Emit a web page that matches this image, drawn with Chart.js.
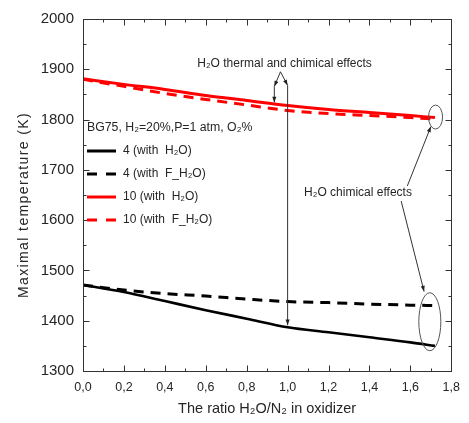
<!DOCTYPE html>
<html><head><meta charset="utf-8">
<script src="https://cdn.jsdelivr.net/npm/chart.js@4.4.1/dist/chart.umd.min.js"></script>
<style>html,body{margin:0;padding:0;background:#fff;}#wrap{width:469px;height:423px;}</style>
</head><body><div id="wrap"><canvas id="c" width="469" height="423"></canvas></div>
<script>
// ---- data ----
const ratio = [0, 0.2, 0.4, 0.6, 0.8, 1.0, 1.2, 1.4, 1.6, 1.72];
const o2_4_withH2O   = [1471, 1457, 1439, 1421, 1404, 1387, 1377, 1367, 1357, 1350];
const o2_4_withFH2O  = [1471, 1461, 1454, 1449, 1443, 1438, 1436, 1433, 1431, 1430];
const o2_10_withH2O  = [1881, 1870, 1860, 1848, 1838, 1828, 1820, 1814, 1808, 1804];
const o2_10_withFH2O = [1880, 1866, 1852, 1840, 1829, 1818, 1812, 1808, 1804, 1801];
const xTicks = [0, 0.2, 0.4, 0.6, 0.8, 1.0, 1.2, 1.4, 1.6, 1.8];
const yTicks = [1300, 1400, 1500, 1600, 1700, 1800, 1900, 2000];
const seriesLabels = ['4 (with  H\u2082O)', '4 (with  F_H\u2082O)', '10 (with  H\u2082O)', '10 (with  F_H\u2082O)'];
const legendTitle = 'BG75, H\u2082=20%,P=1 atm, O\u2082%';
const xTitle = 'The ratio H\u2082O/N\u2082 in oxidizer';
const yTitle = 'Maximal temperature (K)';
const note1 = 'H\u2082O thermal and chimical effects';
const note2 = 'H\u2082O chimical effects';

const FONT = "'Liberation Sans', Arial, sans-serif";
const TXT = '#262626';

const pts = arr => ratio.map((r, i) => ({x: r, y: arr[i]}));
const mk = (label, arr, color, dash, w) => ({
  label, data: pts(arr), borderColor: color, backgroundColor: color,
  borderWidth: w, borderDash: dash, pointRadius: 0, tension: 0.35,
  cubicInterpolationMode: 'monotone', fill: false
});

const overlay = {
  id: 'overlay',
  afterDraw(chart) {
    const {ctx, chartArea: a, scales: {x, y}} = chart;
    const P = (xv, yv) => [x.getPixelForValue(xv), y.getPixelForValue(yv)];
    ctx.save();
    // frame
    ctx.strokeStyle = '#333'; ctx.lineWidth = 1;
    const L = Math.round(a.left) + 0.5, R = Math.round(a.right) + 0.5;
    const T = Math.round(a.top) + 0.5, B = Math.round(a.bottom) + 0.5;
    ctx.strokeRect(L, T, R - L, B - T);
    // ticks (inward, major + minor)
    ctx.beginPath();
    for (let i = 0; i <= 18; i++) {
      const px = Math.round(x.getPixelForValue(i / 10)) + 0.5;
      const len = i % 2 === 0 ? 6 : 3;
      ctx.moveTo(px, B); ctx.lineTo(px, B - len);
      ctx.moveTo(px, T); ctx.lineTo(px, T + len);
    }
    for (let v = 1300; v <= 2000; v += 50) {
      const py = Math.round(y.getPixelForValue(v)) + 0.5;
      const len = v % 100 === 0 ? 6 : 3;
      ctx.moveTo(L, py); ctx.lineTo(L + len, py);
      ctx.moveTo(R, py); ctx.lineTo(R - len, py);
    }
    ctx.stroke();

    // y title with letter spacing
    ctx.save();
    ctx.translate(24, 205);
    ctx.rotate(-Math.PI / 2);
    ctx.font = '14px ' + FONT;
    ctx.letterSpacing = '1.4px';
    ctx.fillStyle = TXT; ctx.textAlign = 'center'; ctx.textBaseline = 'middle';
    ctx.fillText(yTitle, 0, 0);
    ctx.restore();

    // legend
    ctx.fillStyle = TXT; ctx.textBaseline = 'middle'; ctx.textAlign = 'left';
    ctx.font = '12.3px ' + FONT;
    ctx.fillText(legendTitle, 87, 128);
    ctx.font = '12px ' + FONT;
    const rows = [151, 174, 197, 220];
    chart.data.datasets.forEach((ds, i) => {
      const ry = rows[i];
      ctx.save();
      ctx.strokeStyle = ds.borderColor; ctx.lineWidth = 3;
      ctx.setLineDash(ds.borderDash && ds.borderDash.length ? [10, 9] : []);
      ctx.beginPath(); ctx.moveTo(87, ry); ctx.lineTo(116, ry); ctx.stroke();
      ctx.restore();
      ctx.fillStyle = TXT;
      ctx.fillText(ds.label, 123, ry);
    });

    // annotations
    ctx.strokeStyle = '#333'; ctx.fillStyle = '#222'; ctx.lineWidth = 1;
    const arrow = (p1, p2, head = 6) => {
      ctx.beginPath(); ctx.moveTo(p1[0], p1[1]); ctx.lineTo(p2[0], p2[1]); ctx.stroke();
      const ang = Math.atan2(p2[1] - p1[1], p2[0] - p1[0]);
      ctx.beginPath();
      ctx.moveTo(p2[0], p2[1]);
      ctx.lineTo(p2[0] - head * Math.cos(ang - 0.35), p2[1] - head * Math.sin(ang - 0.35));
      ctx.lineTo(p2[0] - head * Math.cos(ang + 0.35), p2[1] - head * Math.sin(ang + 0.35));
      ctx.closePath(); ctx.fill();
    };
    const apex = P(0.965, 1895);
    arrow(apex, P(0.935, 1866));
    arrow(P(0.935, 1866), P(0.935, 1834));
    arrow(apex, P(1.0, 1868));
    arrow(P(1.0, 1868), P(1.0, 1391));
    arrow(P(1.585, 1668), P(1.70, 1786));
    arrow(P(1.555, 1638), P(1.667, 1458));
    ctx.strokeStyle = '#555';
    const ell = (c, rx, ry) => { ctx.beginPath(); ctx.ellipse(c[0], c[1], rx, ry, 0, 0, Math.PI * 2); ctx.stroke(); };
    ell(P(1.723, 1805), 7, 12);
    ell(P(1.695, 1398), 11, 29);

    ctx.fillStyle = TXT; ctx.textAlign = 'center'; ctx.textBaseline = 'middle';
    ctx.font = '12px ' + FONT;
    const t1 = P(0.985, 1912); ctx.fillText(note1, t1[0], t1[1]);
    const t2 = P(1.344, 1654); ctx.fillText(note2, t2[0], t2[1]);
    ctx.restore();
  }
};

new Chart(document.getElementById('c'), {
  type: 'line',
  data: {
    datasets: [
      mk(seriesLabels[0], o2_4_withH2O, '#000000', [], 2.6),
      mk(seriesLabels[1], o2_4_withFH2O, '#000000', [10, 7], 3),
      mk(seriesLabels[2], o2_10_withH2O, '#ff0000', [], 3),
      mk(seriesLabels[3], o2_10_withFH2O, '#ff0000', [10, 7], 3)
    ]
  },
  options: {
    responsive: false, animation: false, devicePixelRatio: 1,
    layout: {padding: {top: 19, right: 11, left: 0, bottom: 0}},
    plugins: {legend: {display: false}, tooltip: {enabled: false}},
    scales: {
      x: {
        type: 'linear', min: 0, max: 1.8,
        afterBuildTicks: s => { s.ticks = xTicks.map(v => ({value: v})); },
        afterFit: s => { s.height = 52; },
        grid: {display: false, drawTicks: false}, border: {display: false},
        ticks: {padding: 9, color: TXT, font: {family: FONT, size: 12.5},
          callback: v => Number(v).toFixed(1).replace('.', ',')},
        title: {display: true, text: xTitle, color: TXT, font: {family: FONT, size: 14.5}, padding: {top: 0, bottom: 5}}
      },
      y: {
        type: 'linear', min: 1300, max: 2000,
        afterBuildTicks: s => { s.ticks = yTicks.map(v => ({value: v})); },
        afterFit: s => { s.width = 83; },
        grid: {display: false, drawTicks: false}, border: {display: false},
        ticks: {padding: 9, color: TXT, font: {family: FONT, size: 15}, callback: v => String(v)}
      }
    }
  },
  plugins: [overlay]
});
</script></body></html>
